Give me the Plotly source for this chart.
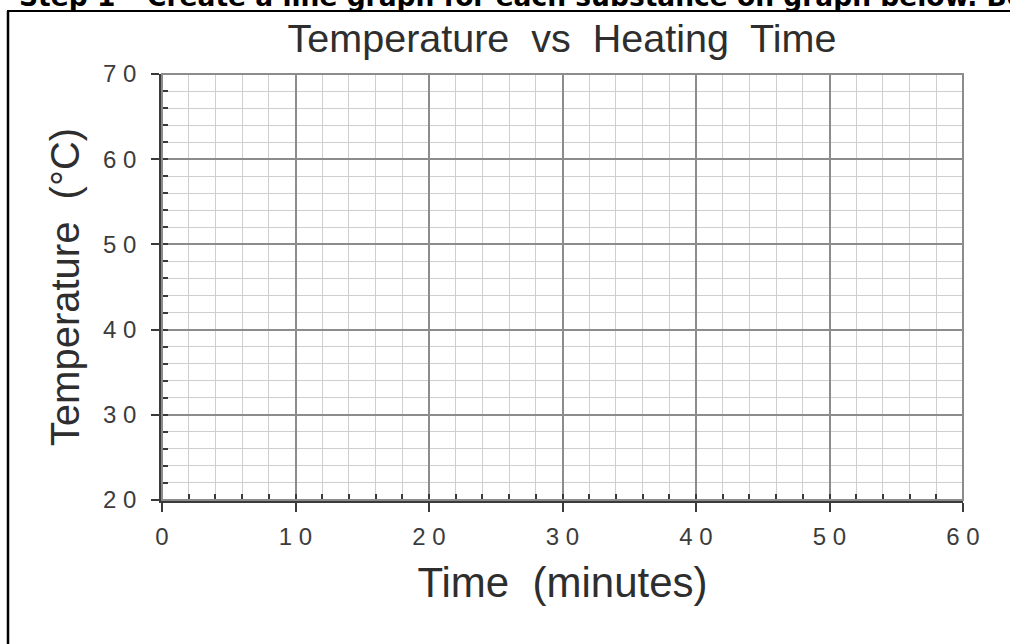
import plotly.graph_objects as go

# ---- data (axis definitions; empty grid chart) ----
x_range = [0, 60]
y_range = [20, 70]
x_tickvals = [0, 10, 20, 30, 40, 50, 60]
y_tickvals = [20, 30, 40, 50, 60, 70]
x_minor_step = 2
y_minor_step = 2
title_text = "Temperature  vs  Heating  Time"
x_title = "Time  (minutes)"
y_title = "Temperature  (°C)"
header_text = "Step 1 \u2013 Create a line graph for each substance on graph below.  Be"

def spaced(v):
    return " ".join(str(v))

W, H = 1010, 644
L, R, T, B = 162, 47, 74, 144
pw, ph = W - L - R, H - T - B

def px_to_paper_x(px):
    return (px - L) / pw

def px_to_paper_y(py):
    return (H - B - py) / ph

font_main = "Liberation Sans, Arial, sans-serif"

fig = go.Figure()
fig.add_trace(go.Scatter(x=[], y=[], mode="lines", showlegend=False))

major_grid = "#8c8c8c"
minor_grid = "#cfcfcf"
axis_col = "#3a3a3a"

fig.update_xaxes(
    range=x_range, tickmode="array", tickvals=x_tickvals,
    ticktext=[spaced(v) for v in x_tickvals],
    showgrid=True, gridcolor=major_grid, gridwidth=1.6,
    showline=True, linecolor=axis_col, linewidth=2.5, mirror=False,
    ticks="outside", ticklen=9, tickwidth=2, tickcolor=axis_col,
    tickfont=dict(family=font_main, size=24, color="#3c3c3c"),
    ticklabelstandoff=4,
    zeroline=False,
    minor=dict(dtick=x_minor_step, showgrid=True, gridcolor=minor_grid, gridwidth=1.3,
               ticks="inside", ticklen=6, tickwidth=2, tickcolor=axis_col),
    title=dict(text=x_title, font=dict(family=font_main, size=42, color="#2e2e2e"), standoff=20),
    fixedrange=True,
)
fig.update_yaxes(
    range=y_range, tickmode="array", tickvals=y_tickvals,
    ticktext=[spaced(v) for v in y_tickvals],
    showgrid=True, gridcolor=major_grid, gridwidth=1.6,
    showline=True, linecolor=axis_col, linewidth=2.5, mirror=False,
    ticks="outside", ticklen=8, tickwidth=2, tickcolor=axis_col,
    tickfont=dict(family=font_main, size=24, color="#3c3c3c"),
    ticklabelstandoff=10,
    zeroline=False,
    minor=dict(dtick=y_minor_step, showgrid=True, gridcolor=minor_grid, gridwidth=1.3,
               ticks="inside", ticklen=6, tickwidth=2, tickcolor=axis_col),
    title=dict(text=y_title, font=dict(family=font_main, size=40, color="#2e2e2e"), standoff=12),
    fixedrange=True,
)

shapes = [
    dict(type="rect", xref="paper", yref="paper", x0=0, x1=1, y0=0, y1=1,
         line=dict(color="#8c8c8c", width=2), layer="above"),
    dict(type="line", xref="paper", yref="paper",
         x0=px_to_paper_x(8), x1=px_to_paper_x(8),
         y0=px_to_paper_y(11), y1=px_to_paper_y(660),
         line=dict(color="black", width=2.5)),
    dict(type="line", xref="paper", yref="paper",
         x0=px_to_paper_x(7), x1=px_to_paper_x(1015),
         y0=px_to_paper_y(11), y1=px_to_paper_y(11),
         line=dict(color="black", width=2)),
]

fig.update_layout(
    width=W, height=H,
    margin=dict(l=L, r=R, t=T, b=B),
    paper_bgcolor="white", plot_bgcolor="white",
    title=dict(text=title_text, x=562 / W, xanchor="center",
               y=1 - 38 / H, yanchor="middle",
               font=dict(family=font_main, size=39.5, color="#2e2e2e")),
    shapes=shapes,
    showlegend=False,
)
fig.add_annotation(text="<b>" + header_text.replace("  Be", " Be") + "</b>", xref="paper", yref="paper",
                   x=px_to_paper_x(18), y=px_to_paper_y(13), xanchor="left", yanchor="bottom",
                   showarrow=False, borderpad=0,
                   font=dict(family="DejaVu Sans", size=26.5, color="black"))

fig.write_html("out.html", config={"displayModeBar": False},
               post_script="document.body.style.margin='0';document.body.style.overflow='hidden';")
